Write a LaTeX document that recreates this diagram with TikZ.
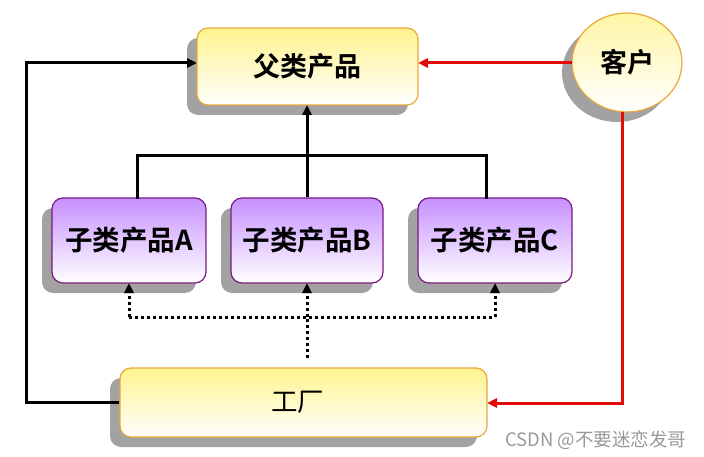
\documentclass[tikz,border=0pt]{standalone}
\usepackage{fontspec}
\newfontfamily\cjk{Noto Sans CJK SC}[BoldFont={* Bold}]
\usetikzlibrary{arrows.meta,shadows,shapes.geometric}
\definecolor{boxorange}{HTML}{E8A83A}
\definecolor{yelltop}{HTML}{FFF38E}
\definecolor{purptop}{HTML}{C690FF}
\definecolor{purpline}{HTML}{7A1A80}
\definecolor{shadowgray}{HTML}{A2A2A2}
\definecolor{redline}{HTML}{E30A0A}
\tikzset{
  shad/.style={drop shadow={shadow xshift=-10pt,shadow yshift=-10pt,fill=shadowgray,opacity=1}},
  yellowbox/.style={shad,draw=boxorange,line width=1.2pt,rounded corners=11pt,
    top color=yelltop,bottom color=white,inner sep=0pt,font=\cjk\bfseries\fontsize{27}{27}\selectfont},
  purplebox/.style={shad,draw=purpline,line width=1.2pt,rounded corners=11pt,
    top color=purptop,bottom color=white,inner sep=0pt,minimum height=85pt,
    font=\cjk\bfseries\fontsize{27.5}{27.5}\selectfont},
  link/.style={line width=3pt},
  tip/.style={-{Triangle[length=10pt,width=9pt]}},
  redlink/.style={line width=3pt,draw=redline},
  dotlink/.style={line width=3pt,dash pattern=on 3pt off 3pt},
}
\begin{document}
\begin{tikzpicture}[x=1pt,y=-1pt]
\useasboundingbox (0,0) rectangle (704,457);
% nodes
\node[yellowbox,minimum width=221pt,minimum height=77pt] (parent) at (307.5,66.5) {父类产品};
\node[purplebox,minimum width=154pt] (a) at (129,240.5) {子类产品A};
\node[purplebox,minimum width=152pt] (b) at (307,240.5) {子类产品B};
\node[purplebox,minimum width=154pt] (c) at (495,240.5) {子类产品C};
\node[yellowbox,minimum width=367pt,minimum height=69pt,font=\cjk\fontsize{26.5}{26.5}\selectfont] (factory) at (303.5,402.5) {\hspace*{-12pt}工厂};
\node[ellipse,shad,draw=boxorange,line width=1.2pt,top color=yelltop!80,bottom color=white,
  minimum width=110pt,minimum height=99pt,inner sep=0pt,font=\cjk\bfseries\fontsize{27}{27}\selectfont] (cust) at (627,62.5) {客户};
\node[text=gray!80,font=\cjk\fontsize{18.5}{18.5}\selectfont,anchor=east] (wm) at (690,440) {CSDN @不要迷恋发哥};
% coordinates
\coordinate (pin) at (197,63);
\coordinate (pout) at (418,63);
\coordinate (pbot) at (307,105);
\coordinate (jl) at (26,402);
\coordinate (jt) at (26,63);
\coordinate (tA) at (137,199);
\coordinate (tC) at (486,199);
\coordinate (hA) at (137,156);
\coordinate (hB) at (307,156);
\coordinate (hC) at (486,156);
\coordinate (cw) at (572,63);
\coordinate (cb) at (622,112);
\coordinate (rc) at (622,403);
\coordinate (fe) at (487,403);
\coordinate (fs) at (307,358);
\coordinate (dB) at (307,317);
\coordinate (dA) at (129,317);
\coordinate (dC) at (495,317);
\coordinate (bA) at (129,283);
\coordinate (bB) at (307,283);
\coordinate (bC) at (495,283);
% connectors
\draw[link,tip] (factory.west |- jl) -- (jl) -- (jt) -- (pin);
\draw[link] (tA) -- (hA) -- (hC) -- (tC);
\draw[link,tip] (b.north) -- (pbot);
\draw[redlink,tip] (cw) -- (pout);
\draw[redlink,tip] (cb) -- (rc) -- (fe);
\draw[dotlink] (fs) -- (dB);
\draw[dotlink] (dA) -- (dC);
\draw[dotlink,tip] (dA) -- (bA);
\draw[dotlink,tip] (dB) -- (bB);
\draw[dotlink,tip] (dC) -- (bC);
\end{tikzpicture}
\end{document}
